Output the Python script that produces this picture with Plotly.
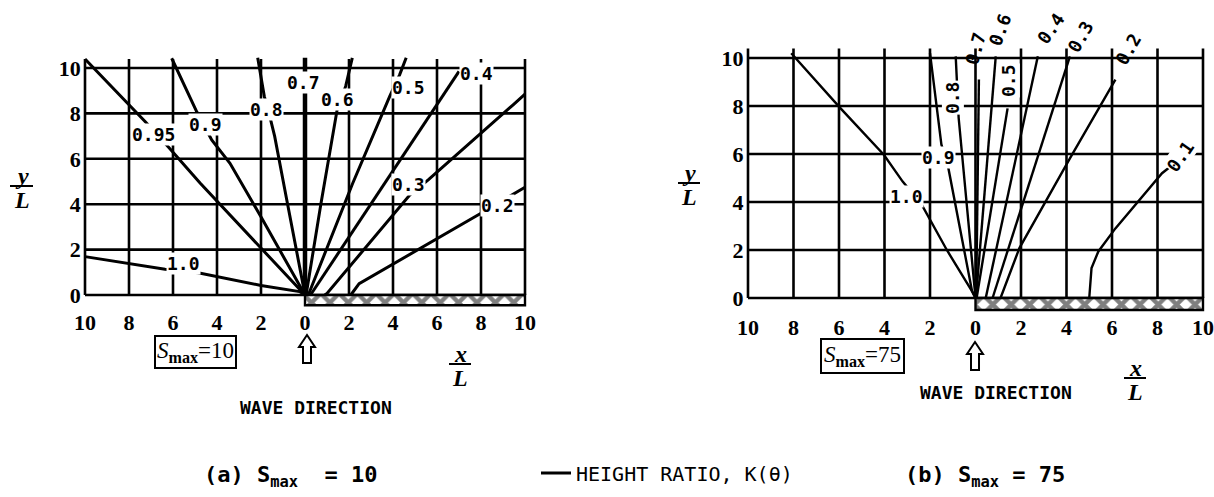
import plotly.graph_objects as go

W, H = 1214, 497

# ---------------- axis ticks ----------------
X_TICKS = [-10, -8, -6, -4, -2, 0, 2, 4, 6, 8, 10]
X_TICKTEXT = ["10", "8", "6", "4", "2", "0", "2", "4", "6", "8", "10"]
Y_TICKS = [0, 2, 4, 6, 8, 10]
Y_TICKTEXT = ["0", "2", "4", "6", "8", "10"]

# ---------------- panel (a): S_max = 10 ----------------
A_095_X = [-10.0, -7.27, -6.22, -4.77, 0.0]
A_095_Y = [10.4, 7.64, 6.53, 4.93, 0.0]
A_090_X = [-6.06, -4.92, -4.24, -3.41, -1.97, 0.0]
A_090_Y = [10.43, 8.07, 6.83, 5.8, 3.39, 0.0]
A_080_X = [-2.15, -1.85, -1.6, -1.38, -0.83, 0.0]
A_080_Y = [10.45, 8.75, 7.87, 7.0, 4.2, 0.0]
A_070_X = [0.0, 0.0]
A_070_Y = [10.45, 0.0]
A_060_X = [2.15, 1.85, 1.46, 0.72, 0.05]
A_060_Y = [10.45, 9.2, 8.16, 4.0, 0.0]
A_050_X = [4.6, 4.3, 3.85, 2.16, 0.15]
A_050_Y = [10.45, 9.7, 8.75, 4.9, 0.0]
A_040_X = [7.0, 4.08, 0.25]
A_040_Y = [9.85, 5.59, 0.0]
A_030_X = [10.0, 9.46, 5.6, 4.77, 1.0, 0.9]
A_030_Y = [8.85, 8.38, 5.07, 4.41, 0.07, 0.0]
A_020_X = [10.0, 8.0, 2.46, 2.08]
A_020_Y = [4.75, 3.6, 0.5, 0.0]
A_100_X = [-10.0, -6.36, -4.86, -2.0, -0.25, 0.0]
A_100_Y = [1.69, 1.13, 0.98, 0.42, 0.15, 0.0]

A_LEVELS = ["0.95", "0.9", "0.8", "0.7", "0.6", "0.5", "0.4", "0.3", "0.2", "1.0"]
A_LABEL_X = [-6.89, -4.5, -1.74, -0.08, 1.46, 4.72, 7.8, 4.72, 8.73, -5.53]
A_LABEL_Y = [7.09, 7.53, 8.16, 9.38, 8.63, 9.16, 9.75, 4.85, 3.96, 1.37]

# ---------------- panel (b): S_max = 75 ----------------
B_100_X = [-8.1, -5.93, -4.02, -3.2, -2.37, -1.26, -0.15, 0.0]
B_100_Y = [10.2, 7.9, 5.96, 4.85, 3.9, 2.0, 0.28, 0.0]
B_090_X = [-2.0, -1.5, -1.19, -0.15, 0.0]
B_090_Y = [10.2, 6.4, 5.4, 0.28, 0.0]
B_080_X = [-0.87, -0.74, 0.0]
B_080_Y = [10.07, 7.5, 0.0]
B_070_X = [0.15, 0.03]
B_070_Y = [9.1, 0.0]
B_060_X = [0.89, 0.02]
B_060_Y = [10.07, 0.0]
B_050_X = [1.41, 0.05]
B_050_Y = [7.9, 0.0]
B_040_X = [2.74, 0.45]
B_040_Y = [10.07, 0.0]
B_030_X = [4.15, 0.75]
B_030_Y = [10.07, 0.0]
B_020_X = [6.15, 4.2, 1.93, 1.1]
B_020_Y = [9.1, 5.9, 2.08, 0.0]
B_010_X = [5.0, 5.05, 5.1, 5.4, 6.15, 8.2, 8.6]
B_010_Y = [0.0, 0.6, 1.25, 1.94, 2.9, 5.2, 5.5]

B_LEVELS = ["1.0", "0.9", "0.8", "0.7", "0.6", "0.5", "0.4", "0.3", "0.2", "0.1"]
B_LABEL_X = [-3.04, -1.63, -1.0, 0.0, 1.07, 1.48, 3.3, 4.62, 6.74, 9.0]
B_LABEL_Y = [4.24, 5.86, 8.36, 10.4, 11.2, 9.05, 11.25, 10.9, 10.38, 5.9]
B_LABEL_ANGLE = [0, 0, -90, -75, -70, -90, -55, -60, -60, -55]
B_LABEL_BG = [True, True, True, False, False, True, False, False, False, True]

# breakwater extent (x from, x to, depth below y=0)
A_BREAKWATER = (0.0, 10.0, -0.45)
B_BREAKWATER = (0.0, 10.0, -0.5)

A_LINES = [(A_095_X, A_095_Y), (A_090_X, A_090_Y), (A_080_X, A_080_Y), (A_070_X, A_070_Y),
           (A_060_X, A_060_Y), (A_050_X, A_050_Y), (A_040_X, A_040_Y), (A_030_X, A_030_Y),
           (A_020_X, A_020_Y), (A_100_X, A_100_Y)]
B_LINES = [(B_100_X, B_100_Y), (B_090_X, B_090_Y), (B_080_X, B_080_Y), (B_070_X, B_070_Y),
           (B_060_X, B_060_Y), (B_050_X, B_050_Y), (B_040_X, B_040_Y), (B_030_X, B_030_Y),
           (B_020_X, B_020_Y), (B_010_X, B_010_Y)]


def px(x):
    return x / W


def py(y):
    return 1 - y / H


def domain(p_at_v0, p_per_unit, r0, r1, vertical=False):
    """pixel position of value 0 and pixels per unit -> paper domain for range [r0, r1]"""
    if vertical:
        a = p_at_v0 - r0 * p_per_unit
        b = p_at_v0 - r1 * p_per_unit
        return [py(a), py(b)]
    a = p_at_v0 + r0 * p_per_unit
    b = p_at_v0 + r1 * p_per_unit
    return [px(a), px(b)]


XR = [-10.15, 10.15]
A_YR = [-0.55, 10.6]
B_YR = [-0.6, 11.6]

fig = go.Figure()

LABEL_FONT = dict(family="DejaVu Sans Mono", size=18, color="black", weight="bold")
TICK_FONT = dict(family="Liberation Serif", size=22, color="black", weight="bold")

# ---- contour lines ----
for i, (xs, ys) in enumerate(A_LINES):
    fig.add_trace(go.Scatter(
        x=xs, y=ys, mode="lines", xaxis="x", yaxis="y",
        line=dict(color="black", width=4.5 if A_LEVELS[i] == "0.7" else 3),
        name="HEIGHT RATIO, K(θ)", showlegend=(i == 0), hoverinfo="skip"))
for xs, ys in B_LINES:
    fig.add_trace(go.Scatter(
        x=xs, y=ys, mode="lines", xaxis="x2", yaxis="y2",
        line=dict(color="black", width=2.4), showlegend=False, hoverinfo="skip"))

# ---- breakwaters (hatched) ----
for (x0, x1, d), xa, ya in [(A_BREAKWATER, "x", "y"), (B_BREAKWATER, "x2", "y2")]:
    fig.add_trace(go.Scatter(
        x=[x0, x1, x1, x0, x0], y=[0, 0, d, d, 0], mode="lines", xaxis=xa, yaxis=ya,
        fill="toself", fillcolor="white",
        fillpattern=dict(shape="x", size=13, solidity=0.55, fgcolor="black", bgcolor="white"),
        line=dict(color="black", width=2.4), showlegend=False, hoverinfo="skip"))

shapes = []
# ---- grid (drawn as thick lines, like the original) ----
for xa, ya in [("x", "y"), ("x2", "y2")]:
    for xv in X_TICKS:
        shapes.append(dict(type="line", xref=xa, yref=ya, x0=xv, x1=xv, y0=0, y1=10.4,
                           line=dict(color="black", width=2.6), layer="below"))
    for yv in Y_TICKS:
        shapes.append(dict(type="line", xref=xa, yref=ya, x0=-10, x1=10, y0=yv, y1=yv,
                           line=dict(color="black", width=2.6), layer="below"))

annotations = []
# ---- contour labels ----
for k, lx, ly in zip(A_LEVELS, A_LABEL_X, A_LABEL_Y):
    annotations.append(dict(text=k, x=lx, y=ly, xref="x", yref="y", showarrow=False,
                            xanchor="center", yanchor="middle",
                            bgcolor="white", borderpad=0, font=LABEL_FONT))
for k, lx, ly, ang, bg in zip(B_LEVELS, B_LABEL_X, B_LABEL_Y, B_LABEL_ANGLE, B_LABEL_BG):
    annotations.append(dict(text=k, x=lx, y=ly, xref="x2", yref="y2", showarrow=False,
                            xanchor="center", yanchor="middle",
                            textangle=ang, bgcolor="white" if bg else "rgba(0,0,0,0)",
                            borderpad=0, font=LABEL_FONT))


def pann(text, x, y, size, family, **kw):
    d = dict(text=text, x=px(x), y=py(y), xref="paper", yref="paper", showarrow=False,
             xanchor="center", yanchor="middle",
             font=dict(size=size, family=family, color="black"))
    d.update(kw)
    return d


SERIF = "Liberation Serif"
MONO = "DejaVu Sans Mono"

# axis titles y/L
for cx, by, b0, b1 in [(22, 186, 10, 33), (689, 183, 678, 700)]:
    annotations.append(pann("<b><i>y</i></b>", cx, by - 10, 24, SERIF))
    annotations.append(pann("<b><i>L</i></b>", cx, by + 14, 24, SERIF))
    shapes.append(dict(type="line", xref="paper", yref="paper", x0=px(b0), x1=px(b1),
                       y0=py(by), y1=py(by), line=dict(color="black", width=2)))
# axis titles x/L
for cx, by in [(460, 364), (1135, 378)]:
    annotations.append(pann("<b><i>x</i></b>", cx, by - 10, 24, SERIF))
    annotations.append(pann("<b><i>L</i></b>", cx, by + 14, 24, SERIF))
    shapes.append(dict(type="line", xref="paper", yref="paper", x0=px(cx - 11), x1=px(cx + 11),
                       y0=py(by), y1=py(by), line=dict(color="black", width=2)))

# S_max boxes
annotations.append(pann("<i>S</i><sub><b>max</b></sub>=10", 196, 352, 23, SERIF,
                        bordercolor="black", borderwidth=2, borderpad=1, bgcolor="white"))
annotations.append(pann("<i>S</i><sub><b>max</b></sub>=75", 863, 356, 23, SERIF,
                        bordercolor="black", borderwidth=2, borderpad=2, bgcolor="white"))

# wave direction
annotations.append(pann("<b>WAVE DIRECTION</b>", 316, 407, 18, MONO))
annotations.append(pann("<b>WAVE DIRECTION</b>", 996, 392, 18, MONO))

# arrows (outlined, pointing up)
ARROW = [(0, 0), (-8, 12), (-4, 12), (-4, 28), (4, 28), (4, 12), (8, 12)]
for cx, top in [(307, 335), (975, 342)]:
    pts = [(px(cx + dx), py(top + dy)) for dx, dy in ARROW]
    path = "M " + " L ".join(f"{a:.5f},{b:.5f}" for a, b in pts) + " Z"
    shapes.append(dict(type="path", xref="paper", yref="paper", path=path,
                       line=dict(color="black", width=2), fillcolor="white"))

# captions
annotations.append(pann("<b>(a) S<sub>max</sub>\u00a0 = 10</b>", 202, 476, 22, MONO, xanchor="left"))
annotations.append(pann("<b>(b) S<sub>max</sub> = 75</b>", 903, 476, 22, MONO, xanchor="left"))

axis_common = dict(showgrid=False, zeroline=False, showline=False, ticks="",
                   tickfont=TICK_FONT, fixedrange=True, automargin=False)

fig.update_layout(
    width=W, height=H, margin=dict(l=0, r=0, t=0, b=0, autoexpand=False),
    paper_bgcolor="white", plot_bgcolor="white",
    xaxis=dict(domain=domain(305, 22.0, XR[0], XR[1]), range=XR, tickvals=X_TICKS,
               ticktext=X_TICKTEXT, anchor="y", **axis_common),
    yaxis=dict(domain=domain(295, 22.7, A_YR[0], A_YR[1], vertical=True), range=A_YR,
               tickvals=Y_TICKS, ticktext=Y_TICKTEXT, anchor="x", **axis_common),
    xaxis2=dict(domain=domain(975.5, 22.75, XR[0], XR[1]), range=XR, tickvals=X_TICKS,
                ticktext=X_TICKTEXT, anchor="y2", **axis_common),
    yaxis2=dict(domain=domain(298, 24.0, B_YR[0], B_YR[1], vertical=True), range=B_YR,
                tickvals=Y_TICKS, ticktext=Y_TICKTEXT, anchor="x2", **axis_common),
    shapes=shapes,
    annotations=annotations,
    showlegend=True,
    legend=dict(x=px(536), y=py(473), xanchor="left", yanchor="middle",
                bgcolor="rgba(0,0,0,0)", itemwidth=30,
                font=dict(family=MONO, size=20, color="black")),
)

fig.write_html("out.html", config={"displayModeBar": False},
               post_script="document.body.style.margin='0px';")
